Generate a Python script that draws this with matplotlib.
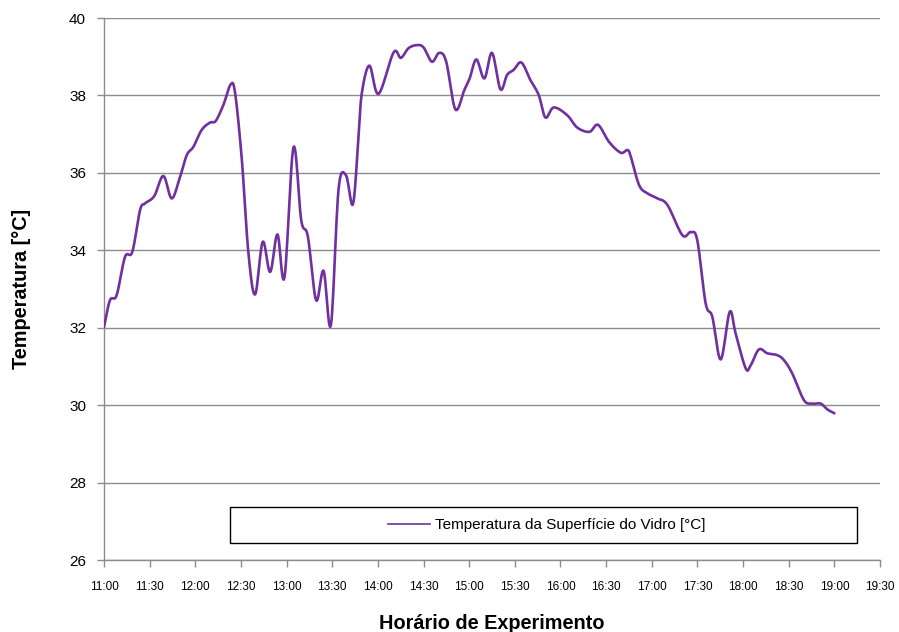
import numpy as np
import matplotlib
matplotlib.use("Agg")
import matplotlib.pyplot as plt
from matplotlib.patches import Rectangle

plt.rcParams['font.family'] = ['Liberation Sans', 'DejaVu Sans']

# Minutes elapsed since 11:00 and glass surface temperature [°C]
minutes = [0, 3.9, 8.3, 13.8, 18.6, 23.7, 26.9, 33, 39, 44.5, 50, 54.4, 58.7, 64.2,
           69.7, 73.4, 78.4, 83.3, 86.2, 90.6, 94.9, 99.3, 104.3, 109.2, 114, 118.6,
           124.5, 129.6, 134, 139.4, 144.3, 149.1, 154.1, 159, 163.6, 167.2, 169.4,
           174.4, 180.4, 190.3, 195.1, 200.1, 205.6, 210, 215.5, 220.3, 224.9, 230.9,
           236.8, 240.3, 244.7, 250, 255, 260.5, 264.9, 269.2, 274.3, 280.2, 285.7,
           290.1, 295.6, 304.4, 311, 319, 324.7, 331.9, 339.6, 344, 346.2, 351.7,
           357.2, 363.7, 370.3, 380.1, 385.6, 389.9, 395.4, 399.8, 405.3, 411.2,
           415.1, 421.7, 425, 430.4, 435.9, 442.5, 446.9, 452.3, 460, 465.5, 471,
           475.4, 480]
temperature = [32.02, 32.71, 32.84, 33.83, 33.96, 35.04, 35.21, 35.40, 35.92, 35.34,
               35.90, 36.46, 36.67, 37.11, 37.30, 37.34, 37.75, 38.29, 38.05, 36.33,
               33.93, 32.86, 34.22, 33.44, 34.41, 33.30, 36.66, 34.78, 34.35, 32.71,
               33.47, 32.07, 35.56, 35.94, 35.19, 36.89, 38.05, 38.77, 38.04, 39.11,
               38.97, 39.22, 39.30, 39.24, 38.87, 39.10, 38.87, 37.64, 38.14, 38.44,
               38.93, 38.44, 39.10, 38.16, 38.53, 38.66, 38.85, 38.40, 38.01, 37.43,
               37.69, 37.49, 37.17, 37.06, 37.24, 36.80, 36.52, 36.59, 36.42, 35.68,
               35.47, 35.34, 35.17, 34.39, 34.47, 34.26, 32.63, 32.28, 31.18, 32.41,
               31.85, 30.95, 31.03, 31.44, 31.34, 31.29, 31.16, 30.82, 30.13, 30.04,
               30.04, 29.89, 29.79]

tick_labels = ["11:00", "11:30", "12:00", "12:30", "13:00", "13:30", "14:00", "14:30",
               "15:00", "15:30", "16:00", "16:30", "17:00", "17:30", "18:00", "18:30",
               "19:00", "19:30"]
y_ticks = [26, 28, 30, 32, 34, 36, 38, 40]

series_label = "Temperatura da Superfície do Vidro [°C]"
line_color = "#7030A0"


def smooth_curve(x, y, n=12):
    """Catmull-Rom smoothing between consecutive samples (spreadsheet-style smoothed line)."""
    x = np.asarray(x, float)
    y = np.asarray(y, float)
    px = np.concatenate([[2 * x[0] - x[1]], x, [2 * x[-1] - x[-2]]])
    py = np.concatenate([[2 * y[0] - y[1]], y, [2 * y[-1] - y[-2]]])
    xs, ys = [], []
    t = np.linspace(0, 1, n, endpoint=False)
    for i in range(1, len(px) - 2):
        p0, p1, p2, p3 = [np.array([px[j], py[j]]) for j in (i - 1, i, i + 1, i + 2)]
        c1 = p1 + (p2 - p0) / 6
        c2 = p2 - (p3 - p1) / 6
        for tt in t:
            b = ((1 - tt) ** 3) * p1 + 3 * ((1 - tt) ** 2) * tt * c1 + 3 * (1 - tt) * tt ** 2 * c2 + tt ** 3 * p2
            xs.append(b[0])
            ys.append(b[1])
    xs.append(x[-1])
    ys.append(y[-1])
    return np.array(xs), np.array(ys)


fig = plt.figure(figsize=(8.99, 6.32), dpi=100)
ax = fig.add_axes([0.1157, 0.1139, 0.8632, 0.8576])

sx, sy = smooth_curve(minutes, temperature)
ax.plot(sx, sy, color=line_color, lw=1.9, solid_capstyle='round', zorder=3)

ax.set_xlim(0, 30 * (len(tick_labels) - 1))
ax.set_ylim(26, 40)
ax.set_xticks([30 * i for i in range(len(tick_labels))])
ax.set_xticklabels(tick_labels, fontsize=8.5)
ax.set_yticks(y_ticks)
ax.set_yticklabels([str(v) for v in y_ticks], fontsize=11)

ax.grid(axis='y', color='#8c8c8c', lw=1.0, zorder=1)
ax.set_axisbelow(True)
for side in ('top', 'right'):
    ax.spines[side].set_visible(False)
for side in ('left', 'bottom'):
    ax.spines[side].set_color('#8c8c8c')
    ax.spines[side].set_linewidth(1.0)
ax.tick_params(axis='both', direction='out', length=5, color='#8c8c8c', width=1.0)
ax.tick_params(axis='x', pad=10)
ax.tick_params(axis='y', pad=8)

ax.set_xlabel("Horário de Experimento", fontsize=14.3, fontweight='bold', labelpad=15)
ax.set_ylabel("Temperatura [°C]", fontsize=14.3, fontweight='bold', labelpad=27)

# Legend inside a framed box near the bottom of the plot area
box = Rectangle((0.162, 0.031), 0.808, 0.067, transform=ax.transAxes,
                facecolor='white', edgecolor='black', lw=1.0, zorder=4)
ax.add_patch(box)
handle = plt.Line2D([], [], color=line_color, lw=1.2)
leg = ax.legend([handle], [series_label], loc='center', bbox_to_anchor=(0.571, 0.0646),
                frameon=False, fontsize=11, handlelength=2.75, handletextpad=0.33)
leg.set_zorder(5)

fig.savefig("out.png", dpi=100)
